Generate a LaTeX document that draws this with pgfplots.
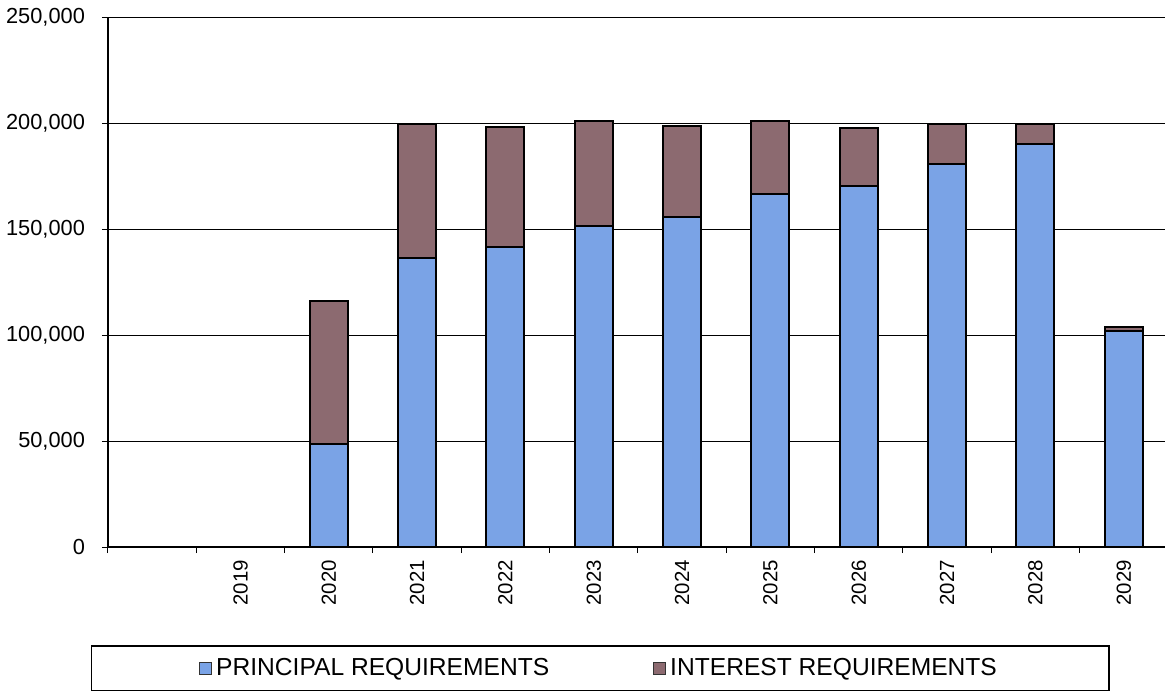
\documentclass[border=0pt]{standalone}
\usepackage{pgfplots}
\pgfplotsset{compat=1.18}
\usepackage{fontspec}
\setmainfont{Liberation Sans}
\definecolor{princ}{RGB}{122,163,230}
\definecolor{intr}{RGB}{140,106,112}
\begin{document}
\begin{tikzpicture}
\begin{axis}[
  at={(0pt,0pt)}, anchor=south west,
  scale only axis, width=528.5pt, height=265pt,
  xmin=-0.5, xmax=11.467, ymin=0, ymax=250000,
  axis x line*=bottom, axis y line*=left,
  axis line style={black, line width=0.6pt},
  ybar stacked, bar width=19pt,
  ytick={0,50000,100000,150000,200000,250000},
  scaled y ticks=false,
  /pgf/number format/assume math mode=true,
  /pgf/number format/fixed,
  /pgf/number format/1000 sep={,},
  y tick label style={font=\fontsize{10.9}{13}\selectfont, xshift=-5pt},
  ymajorgrids, major grid style={black, line width=0.5pt},
  tick align=outside,
  major tick length=3pt,
  tick style={black, line width=0.5pt},
  xtick={1,2,3,4,5,6,7,8,9,10,11},
  xticklabels={2019,2020,2021,2022,2023,2024,2025,2026,2027,2028,2029},
  major x tick style={draw=none},
  minor xtick={-0.5,0.5,1.5,2.5,3.5,4.5,5.5,6.5,7.5,8.5,9.5,10.5},
  minor tick length=3pt,
  minor x tick style={black, line width=0.5pt},
  x tick label style={rotate=90, anchor=east, font=\fontsize{10.2}{12}\selectfont},
  legend columns=2,
  legend style={at={(axis description cs:0.4655,-0.2283)}, anchor=center,
    draw=black, line width=0.6pt, font=\fontsize{12.3}{14}\selectfont,
    inner xsep=54pt, inner ysep=4pt,
    /tikz/every even column/.append style={column sep=50pt}},
]
\addplot[fill=princ, draw=black, line width=1pt,
  legend image code/.code={\draw[fill=princ,draw=black!80,line width=0.5pt] (0pt,-3pt) rectangle (6pt,3pt);}]
  coordinates {(2,48400) (3,136300) (4,141500) (5,151500) (6,155800) (7,166300) (8,170500) (9,180500) (10,190300) (11,102000)};
\addplot[fill=intr, draw=black, line width=1pt,
  legend image code/.code={\draw[fill=intr,draw=black!80,line width=0.5pt] (0pt,-3pt) rectangle (6pt,3pt);}]
  coordinates {(2,67700) (3,63100) (4,56600) (5,49300) (6,42800) (7,34500) (8,27300) (9,18800) (10,9400) (11,1600)};
\legend{PRINCIPAL REQUIREMENTS, INTEREST REQUIREMENTS}
\end{axis}
\pgfresetboundingbox
\useasboundingbox (-54pt,-72.5pt) rectangle (528.5pt,273.5pt);
\end{tikzpicture}
\end{document}
